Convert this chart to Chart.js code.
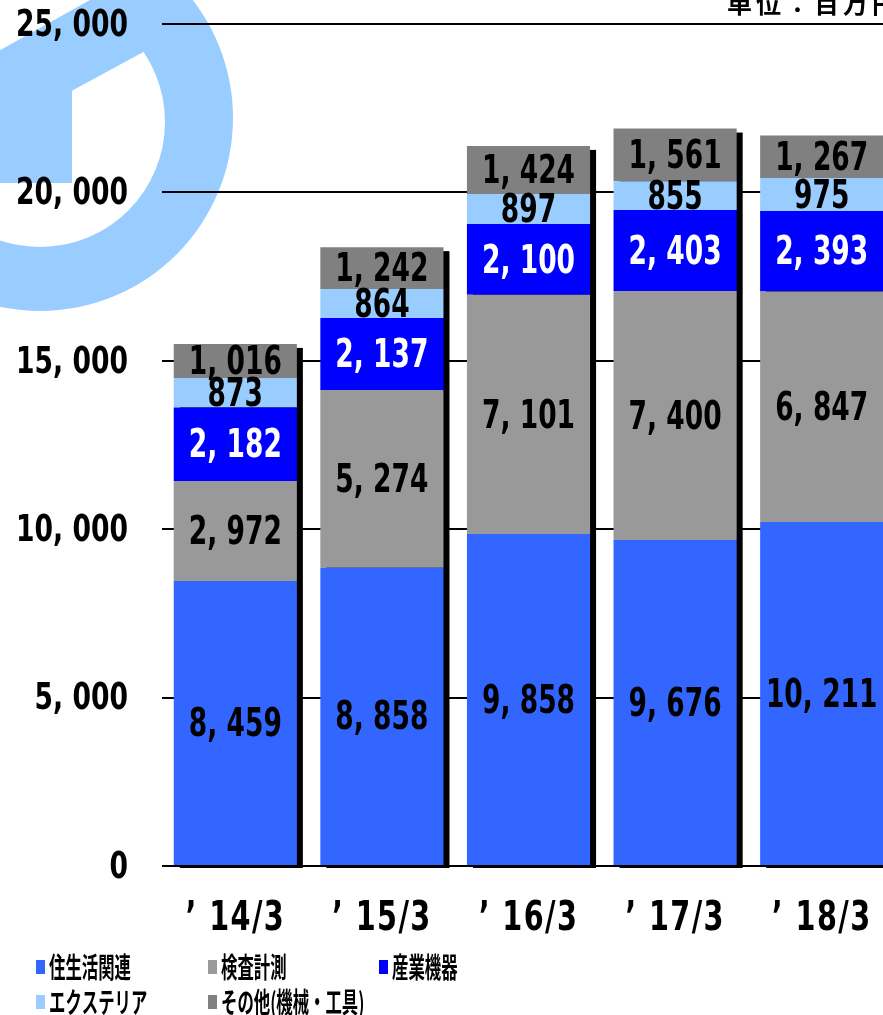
<!DOCTYPE html>
<html lang="ja">
<head>
<meta charset="utf-8">
<title>セグメント別売上高</title>
<script src="https://cdn.jsdelivr.net/npm/chart.js@4.4.1/dist/chart.umd.min.js"></script>
<style>
  html, body { margin: 0; padding: 0; overflow: hidden; background: #fff; }
  #wrap { width: 900px; height: 1015px; }
</style>
</head>
<body>
<div id="wrap"><canvas id="salesChart" width="900" height="1015"></canvas></div>
<script>
// data (unit: million yen)
const categories = ['’ 14/3', '’ 15/3', '’ 16/3', '’ 17/3', '’ 18/3'];
const seriesNames = ['住生活関連', '検査計測', '産業機器', 'エクステリア', 'その他(機械・工具)'];
const housing = [8459, 8858, 9858, 9676, 10211];
const inspection = [2972, 5274, 7101, 7400, 6847];
const industrial = [2182, 2137, 2100, 2403, 2393];
const exterior = [873, 864, 897, 855, 975];
const others = [1016, 1242, 1424, 1561, 1267];
const seriesColors = ['#3366FF', '#999999', '#0000FF', '#99CCFF', '#808080'];
const labelColors = ['#000000', '#000000', '#FFFFFF', '#000000', '#000000'];
const yMax = 25000;
const yStep = 5000;
const unitLabel = '単位：百万円';

const numFont = "'DejaVu Sans', sans-serif";
const jpFont = "'Noto Sans CJK JP', sans-serif";

function fmt(n) {
    return n.toLocaleString('en-US').replace(/,/g, ', ');
}

// the original uses a condensed face, so squeeze text horizontally
function narrowText(c, text, x, y, align, sx) {
    c.save();
    c.translate(x, y);
    c.scale(sx, 1);
    c.textAlign = align;
    c.fillText(text, 0, 0);
    c.restore();
}

document.addEventListener('DOMContentLoaded', function() {
    const ctx = document.getElementById('salesChart');
    const seriesData = [housing, inspection, industrial, exterior, others];

    // light blue logo mark behind the chart
    const watermark = {
        id: 'watermark',
        beforeDraw(chart) {
            const c = chart.ctx;
            c.save();
            c.fillStyle = '#99CCFF';
            c.beginPath();
            c.arc(40, 118, 193, 0, Math.PI * 2);
            c.fill();
            c.fillStyle = '#FFFFFF';
            c.beginPath();
            c.moveTo(-5, -5); c.lineTo(99, -5); c.lineTo(-5, 53);
            c.closePath();
            c.fill();
            c.save();
            c.beginPath();
            c.arc(40, 122, 125, 0, Math.PI * 2);
            c.clip();
            c.beginPath();
            c.moveTo(-50, 157); c.lineTo(147, 50); c.lineTo(400, -88);
            c.lineTo(400, 400); c.lineTo(-50, 400);
            c.closePath();
            c.fill();
            c.restore();
            c.fillStyle = '#99CCFF';
            c.fillRect(0, 50, 72, 133);
            c.restore();
        }
    };

    // black drop shadow on the right of each stacked column
    const barShadow = {
        id: 'barShadow',
        beforeDatasetsDraw(chart) {
            const c = chart.ctx;
            const topMeta = chart.getDatasetMeta(chart.data.datasets.length - 1);
            const base = chart.scales.y.getPixelForValue(0);
            c.save();
            c.fillStyle = '#000000';
            topMeta.data.forEach(bar => {
                const left = bar.x - bar.width / 2;
                c.fillRect(left + 6, bar.y + 4, bar.width, base - bar.y - 2);
            });
            c.restore();
        }
    };

    // tick labels drawn from the scales so they can be condensed
    const axisLabels = {
        id: 'axisLabels',
        afterDraw(chart) {
            const c = chart.ctx;
            const xs = chart.scales.x;
            const ys = chart.scales.y;
            c.save();
            c.fillStyle = '#000000';
            c.textBaseline = 'middle';
            c.font = 'bold 38px ' + numFont;
            ys.ticks.forEach(t => {
                narrowText(c, fmt(t.value), 128, ys.getPixelForValue(t.value) + 2, 'right', 0.7);
            });
            c.font = 'bold 41px ' + numFont;
            c.letterSpacing = '2px';
            chart.data.labels.forEach((lab, i) => {
                narrowText(c, lab, xs.getPixelForTick(i), 919, 'center', 0.7);
            });
            c.restore();
        }
    };

    const segmentLabels = {
        id: 'segmentLabels',
        afterDatasetsDraw(chart) {
            const c = chart.ctx;
            c.save();
            c.font = 'bold 39px ' + numFont;
            c.textBaseline = 'middle';
            chart.data.datasets.forEach((ds, i) => {
                c.fillStyle = labelColors[i];
                chart.getDatasetMeta(i).data.forEach((bar, j) => {
                    narrowText(c, fmt(ds.data[j]), bar.x, (bar.y + bar.base) / 2 + 3, 'center', 0.68);
                });
            });
            c.restore();
        }
    };

    const unitAndLegend = {
        id: 'unitAndLegend',
        afterDraw(chart) {
            const c = chart.ctx;
            c.save();
            c.fillStyle = '#000000';
            c.font = 'bold 25px ' + jpFont;
            c.letterSpacing = '4px';
            c.textBaseline = 'alphabetic';
            c.fillText(unitLabel, 727, 13);
            c.letterSpacing = '0px';

            const cols = [36, 208, 379];
            const rows = [967, 1002];
            chart.data.datasets.forEach((ds, i) => {
                const x = cols[i % 3];
                const y = rows[Math.floor(i / 3)];
                c.fillStyle = ds.backgroundColor;
                c.fillRect(x, y - 7, 9, 14);
                c.fillStyle = '#000000';
                c.font = 'bold 28px ' + jpFont;
                c.textBaseline = 'middle';
                narrowText(c, ds.label, x + 13, y, 'left', 0.585);
            });
            c.restore();
        }
    };

    new Chart(ctx, {
        type: 'bar',
        data: {
            labels: categories,
            datasets: seriesNames.map((name, i) => ({
                label: name,
                data: seriesData[i],
                backgroundColor: seriesColors[i],
                borderWidth: 0,
                barPercentage: 0.84,
                categoryPercentage: 1
            }))
        },
        options: {
            responsive: false,
            animation: false,
            layout: { padding: { top: 24, right: 5, left: 0, bottom: 0 } },
            plugins: {
                legend: { display: false },
                title: { display: false },
                tooltip: { enabled: false }
            },
            scales: {
                x: {
                    stacked: true,
                    grid: { display: false },
                    border: { display: false },
                    ticks: { display: false },
                    afterFit(scale) { scale.height = 149; }
                },
                y: {
                    stacked: true,
                    min: 0,
                    max: yMax,
                    grid: { color: '#000000', lineWidth: 2, drawTicks: false },
                    border: { display: false },
                    ticks: { display: false, stepSize: yStep },
                    afterFit(scale) { scale.width = 162; }
                }
            }
        },
        plugins: [watermark, barShadow, segmentLabels, axisLabels, unitAndLegend]
    });
});
</script>
</body>
</html>
